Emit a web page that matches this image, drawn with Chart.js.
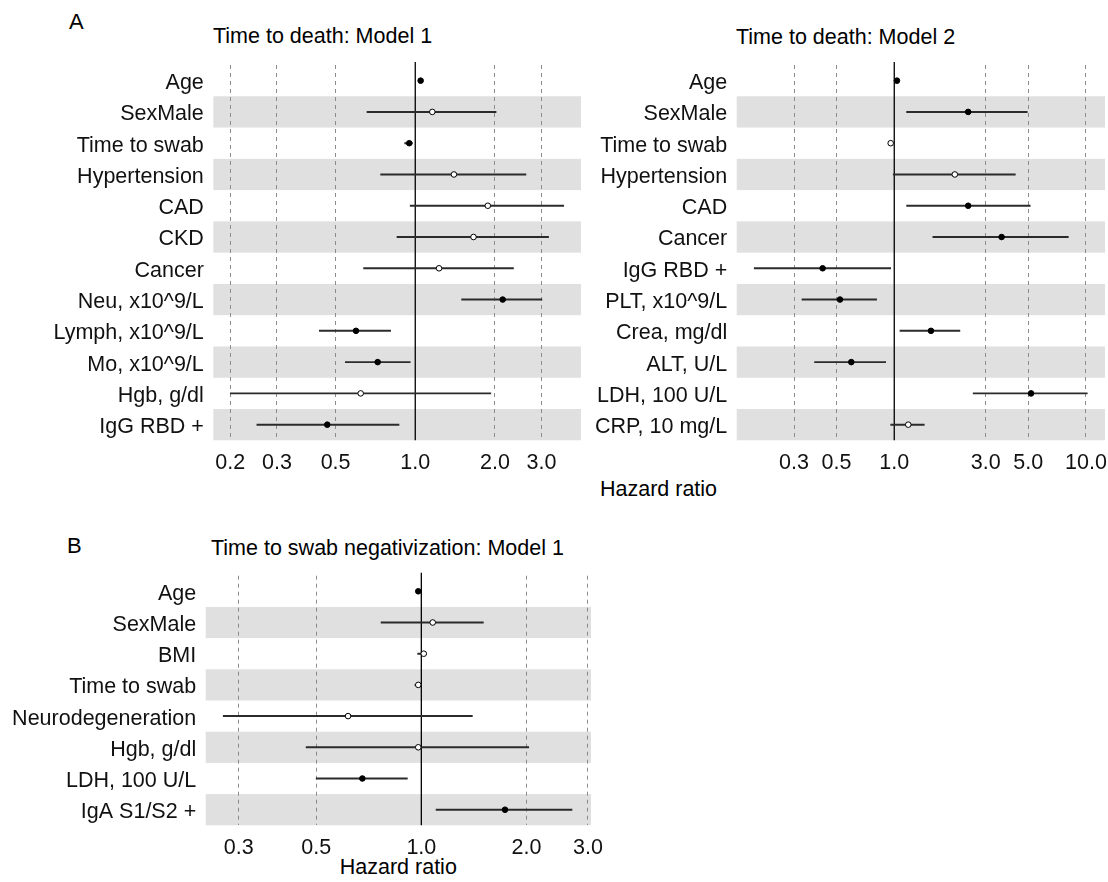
<!DOCTYPE html>
<html><head><meta charset="utf-8">
<script src="https://cdn.jsdelivr.net/npm/chart.js@4"></script>
<style>
html,body{margin:0;padding:0;background:#fff;}
body{width:1108px;height:882px;position:relative;overflow:hidden;font-family:"Liberation Sans",Arial,sans-serif;color:#000;}
canvas{position:absolute;}
.t{position:absolute;white-space:nowrap;line-height:1;font-size:21.5px;}
.c{transform:translateX(-50%);}
</style></head><body>
<div class="t" style="left:69px;top:10.5px;font-size:22px">A</div>
<div class="t" style="left:213px;top:25.8px">Time to death: Model 1</div>
<div class="t" style="left:736px;top:27.3px">Time to death: Model 2</div>
<div class="t c" style="left:658.5px;top:478.8px">Hazard ratio</div>
<div class="t" style="left:67px;top:534.7px;font-size:22px">B</div>
<div class="t" style="left:211px;top:537.8px">Time to swab negativization: Model 1</div>
<div class="t c" style="left:398.3px;top:856.5px">Hazard ratio</div>
<canvas id="c1" width="590" height="480" style="left:0;top:0"></canvas>
<canvas id="c2" width="540" height="480" style="left:590px;top:0"></canvas>
<canvas id="c3" width="630" height="362" style="left:0;top:520px"></canvas>
<script>
// ---- Panel A, Model 1 ----
const a1Labels = ['Age','SexMale','Time to swab','Hypertension','CAD','CKD','Cancer','Neu, x10^9/L','Lymph, x10^9/L','Mo, x10^9/L','Hgb, g/dl','IgG RBD +'];
const a1HR  = [1.048,1.16,0.949,1.40,1.88,1.66,1.23,2.14,0.597,0.721,0.622,0.465];
const a1Lo  = [1.035,0.657,0.912,0.740,0.957,0.853,0.638,1.497,0.434,0.544,0.200,0.252];
const a1Hi  = [1.062,2.02,0.975,2.62,3.64,3.19,2.35,3.01,0.807,0.957,1.93,0.868];
const a1Sig = [1,0,1,0,0,0,0,1,1,1,0,1];
const a1Ticks = [0.2,0.3,0.5,1,2,3];

// ---- Panel A, Model 2 ----
const a2Labels = ['Age','SexMale','Time to swab','Hypertension','CAD','Cancer','IgG RBD +','PLT, x10^9/L','Crea, mg/dl','ALT, U/L','LDH, 100 U/L','CRP, 10 mg/L'];
const a2HR  = [1.033,2.43,0.958,2.07,2.43,3.63,0.423,0.521,1.554,0.597,5.17,1.183];
const a2Lo  = [1.02,1.16,0.945,0.988,1.16,1.59,0.186,0.330,1.071,0.384,2.58,0.958];
const a2Hi  = [1.046,4.94,0.972,4.28,5.12,8.09,0.958,0.809,2.20,0.902,10.16,1.434];
const a2Sig = [1,1,0,0,1,1,1,1,1,1,1,0];
const a2Ticks = [0.3,0.5,1,3,5,10];

// ---- Panel B, swab negativization Model 1 ----
const bLabels = ['Age','SexMale','BMI','Time to swab','Neurodegeneration','Hgb, g/dl','LDH, 100 U/L','IgA S1/S2 +'];
const bHR  = [0.980,1.078,1.016,0.980,0.617,0.980,0.678,1.736];
const bLo  = [0.970,0.767,0.976,0.959,0.271,0.468,0.500,1.102];
const bHi  = [0.990,1.505,1.035,1.000,1.40,2.03,0.912,2.70];
const bSig = [1,0,0,0,0,0,1,1];
const bTicks = [0.3,0.5,1,2,3];

const FONT = {family:'"Liberation Sans", Arial, sans-serif', size:21.5};

const bandsPlugin = {
  id:'bands',
  beforeDraw(chart){
    const {ctx, chartArea:a, scales:{y}} = chart;
    const n = chart.data.labels.length;
    const h = Math.abs(y.getPixelForValue(1) - y.getPixelForValue(0));
    ctx.save();
    ctx.fillStyle = '#e0e0e0';
    for (let i = 1; i < n; i += 2) {
      const c = y.getPixelForValue(i);
      ctx.fillRect(a.left, c - h/2, a.right - a.left, h);
    }
    ctx.restore();
  }
};
const refPlugin = {
  id:'ref',
  beforeDatasetsDraw(chart){
    const {ctx, chartArea:a, scales:{x}} = chart;
    const px = x.getPixelForValue(1);
    ctx.save();
    ctx.strokeStyle = '#000';
    ctx.lineWidth = 1.3;
    ctx.beginPath();
    ctx.moveTo(px, a.top - 3);
    ctx.lineTo(px, a.bottom);
    ctx.stroke();
    ctx.restore();
  }
};

function makeChart(id, labels, hr, lo, hi, sig, ticks, xmin, xmax, L) {
  return new Chart(document.getElementById(id), {
    type:'bar',
    data:{
      labels: labels,
      datasets:[
        { type:'line', data: hr, showLine:false, order:0,
          pointRadius:2.8, pointHoverRadius:2.8, pointBorderWidth:1,
          pointBorderColor:'#000',
          pointBackgroundColor: sig.map(s => s ? '#000' : '#fff') },
        { type:'bar', data: lo.map((v,i) => [v, hi[i]]), order:1,
          backgroundColor:'#2b2b2b', borderWidth:0, barThickness:1.3 }
      ]
    },
    options:{
      indexAxis:'y',
      responsive:false,
      animation:false,
      events:[],
      layout:{padding:{left:0, top:L.top, right:L.right, bottom:0}},
      plugins:{legend:{display:false}, tooltip:{enabled:false}, title:{display:false}},
      scales:{
        x:{
          type:'logarithmic', min:xmin, max:xmax,
          afterBuildTicks: s => { s.ticks = ticks.map(v => ({value:v})); },
          afterFit: s => { s.height = L.xh; },
          ticks:{ callback: v => Number(v).toFixed(1), font:FONT, color:'#111', padding:10, maxRotation:0, autoSkip:false },
          grid:{ drawTicks:false, lineWidth:1,
                 color: c => (c.tick && c.tick.value === 1) ? 'rgba(0,0,0,0)' : '#8c8c8c' },
          border:{ display:false, dash:[4,4] }
        },
        y:{
          type:'category', offset:true,
          afterFit: s => { s.width = L.yw; },
          ticks:{ font:FONT, color:'#111', padding:9.5, autoSkip:false, labelOffset:2.5 },
          grid:{ display:false, drawTicks:false },
          border:{ display:false }
        }
      }
    },
    plugins:[bandsPlugin, refPlugin]
  });
}

makeChart('c1', a1Labels, a1HR, a1Lo, a1Hi, a1Sig, a1Ticks, 0.1725, 4.23, {top:65, right:9, xh:39.7, yw:213.3});
makeChart('c2', a2Labels, a2HR, a2Lo, a2Hi, a2Sig, a2Ticks, 0.1507, 12.57, {top:65, right:25, xh:39.7, yw:146.7});
makeChart('c3', bLabels, bHR, bLo, bHi, bSig, bTicks, 0.2414, 3.06, {top:55.7, right:39, xh:56.7, yw:205.7});
</script>
</body></html>
